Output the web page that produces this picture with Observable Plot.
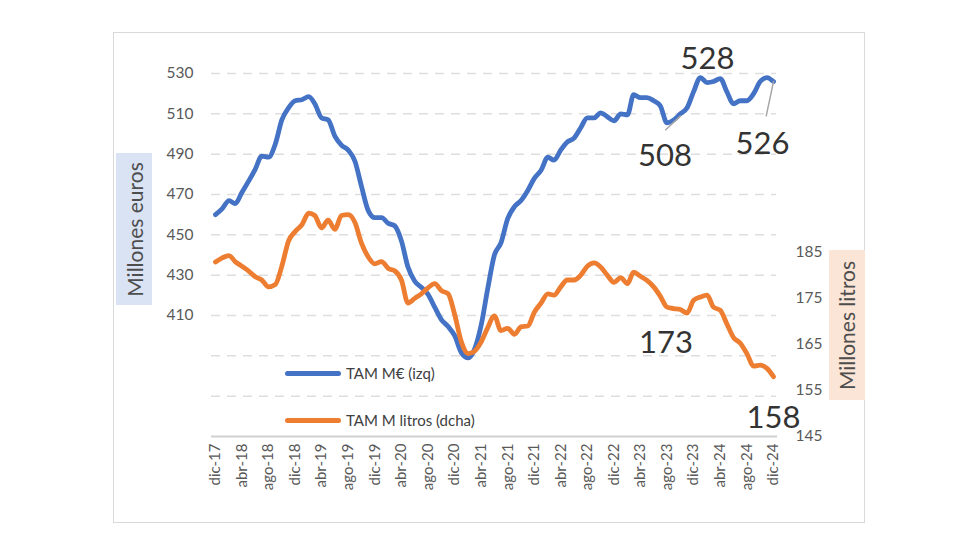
<!DOCTYPE html>
<html>
<head>
<meta charset="utf-8">
<script src="https://cdn.jsdelivr.net/npm/d3@7"></script>
<script src="https://cdn.jsdelivr.net/npm/@observablehq/plot@0.6"></script>
<style>
  html, body { margin: 0; padding: 0; background: #fff; }
  #wrap { position: relative; width: 980px; height: 560px; font-family: Lato, "Open Sans", sans-serif; }
  #wrap svg { position: absolute; left: 0; top: 0; }
  .frame { position: absolute; left: 113px; top: 32px; width: 752px; height: 491px; border: 1.5px solid #d9d9d9; box-sizing: border-box; pointer-events: none; }
  .ytitle { position: absolute; display: flex; align-items: center; justify-content: center; }
  .ytitle span { transform: rotate(-90deg); white-space: nowrap; font-size: 21px; color: #4d4d4d; }
  .leg { position: absolute; display: flex; align-items: center; font-size: 15px; color: #404040; }
  .leg i { display: inline-block; width: 56px; height: 5px; border-radius: 3px; margin-right: 5px; }
</style>
</head>
<body>
<div id="wrap"></div>
<script>
// ---- data ----
const startMonth = new Date(Date.UTC(2017, 11, 1));
const endMonth = new Date(Date.UTC(2025, 0, 1));
const months = d3.utcMonth.range(startMonth, endMonth); // dic-17 .. dic-24 (85 months)

const eurosTAM = [460,463,467,465.5,471,476.5,482.5,489,488.5,495,
  507,513,516.5,517,518.5,515,508,507,499,494.5,
  492,486.5,474,462,458.5,458.5,455.7,454.5,447,434,
  427,424,420.5,414,408,404.5,400,391.5,389,393,
  405,423,440,446,458,464,467,472,478,482,
  488.5,487,492,496,498,503,508,508,510.5,508.5,
  506.5,510,509.5,519.5,518,518,516.5,514,505.5,507,
  510,513,521,528,525.5,526,527.5,521,515,516.5,
  516.5,520,526,528,526];

const litrosTAM = [182.9,183.8,184.3,183,182,181,179.7,179,177.5,178,
  182,187.5,189.5,191,193.5,193,190.3,192,190,193,
  193.2,191.5,187,184,182.5,183,181.5,181,179,174,
  175,176,177.3,178.2,176.7,176,171.5,165.5,163,163.5,
  165.5,168.6,171.2,168,168.5,167.2,168.8,169,172,174,
  176,175.7,177.5,179,179,180,182,182.7,181.8,180,
  178.5,179.5,178.2,180.7,179.8,178.9,177.5,175.5,173.1,172.8,
  172.6,171.8,174.6,175.3,175.7,173.1,172.4,169.5,166.5,165.3,
  163,160.3,160.5,159.8,158];

const xTickLabels = ["dic-17","abr-18","ago-18","dic-18","abr-19","ago-19","dic-19","abr-20","ago-20","dic-20","abr-21",
  "ago-21","dic-21","abr-22","ago-22","dic-22","abr-23","ago-23","dic-23","abr-24","ago-24","dic-24"];
const leftTicks = [410,430,450,470,490,510,530];
const leftGrid = [370,390,410,430,450,470,490,510,530];
const leftDomain = [350, 530];
const rightTicks = [145,155,165,175,185];
const rightDomain = [145, 223.85];

const seriesNames = ["TAM M€ (izq)", "TAM M litros (dcha)"];
const annotations = [
  {label: "528", series: "euros", month: 73},
  {label: "508", series: "euros", month: 68},
  {label: "526", series: "euros", month: 84},
  {label: "173", series: "litros", month: 68},
  {label: "158", series: "litros", month: 84}
];

// ---- build ----
const BLUE = "#4472C4", ORANGE = "#ED7D31";
const r2l = d3.scaleLinear().domain(rightDomain).range(leftDomain);
const euroRows = months.map((d, i) => ({date: d, v: eurosTAM[i]}));
const litroRows = months.map((d, i) => ({date: d, v: r2l(litrosTAM[i]), raw: litrosTAM[i]}));
const tickDates = xTickLabels.map((_, k) => months[k * 4]);
const fmtX = d => xTickLabels[tickDates.findIndex(t => +t === +d)];
const annRows = annotations.map(a => ({
  label: a.label,
  date: months[a.month],
  v: a.series === "euros" ? eurosTAM[a.month] : r2l(litrosTAM[a.month])
}));
const ann = l => annRows.filter(a => a.label === l);
const lineShape = {draw(context, l) { context.moveTo(0, 0); context.lineTo(0, -l); }};

const chart = Plot.plot({
  width: 980,
  height: 560,
  marginLeft: 215,
  marginRight: 207,
  marginTop: 73,
  marginBottom: 124,
  style: {fontFamily: "Lato, 'Open Sans', sans-serif", background: "transparent"},
  x: {type: "utc", domain: [months[0], months[months.length - 1]], label: null},
  y: {domain: leftDomain, label: null},
  marks: [
    Plot.ruleY(leftGrid, {stroke: "#dedede", strokeWidth: 1.5, strokeDasharray: "9,7", insetLeft: -4, insetRight: -3}),
    Plot.ruleY([leftDomain[0]], {stroke: "#d0d0d0", strokeWidth: 2, insetLeft: -4, insetRight: -4}),
    Plot.axisY(leftTicks, {anchor: "left", label: null, tickSize: 0, tickPadding: 22, fontSize: 15.5, color: "#595959"}),
    Plot.axisY(rightTicks.map(r2l), {anchor: "right", label: null, tickSize: 0, tickPadding: 22, fontSize: 15.5, color: "#595959",
      tickFormat: d => Math.round(r2l.invert(d))}),
    Plot.axisX(tickDates, {anchor: "bottom", tickSize: 0, tickPadding: 7, tickRotate: -90, fontSize: 15,
      color: "#595959", tickFormat: fmtX, label: null}),
    Plot.line(euroRows, {x: "date", y: "v", stroke: BLUE, strokeWidth: 4.8, curve: "monotone-x", strokeLinecap: "round", strokeLinejoin: "round"}),
    Plot.line(litroRows, {x: "date", y: "v", stroke: ORANGE, strokeWidth: 4.8, curve: "monotone-x", strokeLinecap: "round", strokeLinejoin: "round"}),
    // leader lines
    Plot.vector(ann("526"), {x: "date", y: "v", length: 35, rotate: 192, anchor: "start", shape: lineShape, stroke: "#a6a6a6", strokeWidth: 1.5}),
    Plot.vector(ann("508"), {x: "date", y: "v", length: 20, rotate: 47, anchor: "middle", shape: lineShape, stroke: "#a6a6a6", strokeWidth: 1.5, dx: 6}),
    // data labels
    Plot.text(ann("528"), {x: "date", y: "v", text: "label", dx: 7, dy: -18, fontSize: 31, fill: "#333"}),
    Plot.text(ann("508"), {x: "date", y: "v", text: "label", dx: -2, dy: 33, fontSize: 31, fill: "#333"}),
    Plot.text(ann("526"), {x: "date", y: "v", text: "label", dx: -11, dy: 63, fontSize: 31, fill: "#333"}),
    Plot.text(ann("173"), {x: "date", y: "v", text: "label", dx: -1, dy: 36, fontSize: 31, fill: "#333"}),
    Plot.text(ann("158"), {x: "date", y: "v", text: "label", dx: 0, dy: 41, fontSize: 31, fill: "#333"})
  ]
});

const wrap = document.getElementById("wrap");
wrap.appendChild(chart);

const frame = document.createElement("div");
frame.className = "frame";
wrap.appendChild(frame);

function yTitle(text, left, top, w, h, bg) {
  const d = document.createElement("div");
  d.className = "ytitle";
  Object.assign(d.style, {left: left + "px", top: top + "px", width: w + "px", height: h + "px", background: bg});
  const s = document.createElement("span");
  s.textContent = text;
  d.appendChild(s);
  wrap.appendChild(d);
}
yTitle("Millones euros", 116, 153, 36, 152, "#DAE3F3");
yTitle("Millones litros", 829, 250, 36, 150, "#FBE5D6");

function legendItem(text, color, left, top) {
  const d = document.createElement("div");
  d.className = "leg";
  Object.assign(d.style, {left: left + "px", top: top + "px"});
  const sw = document.createElement("i");
  sw.style.background = color;
  d.appendChild(sw);
  d.appendChild(document.createTextNode(text));
  wrap.appendChild(d);
}
legendItem(seriesNames[0], BLUE, 285, 364);
legendItem(seriesNames[1], ORANGE, 285, 411);
</script>
</body>
</html>
